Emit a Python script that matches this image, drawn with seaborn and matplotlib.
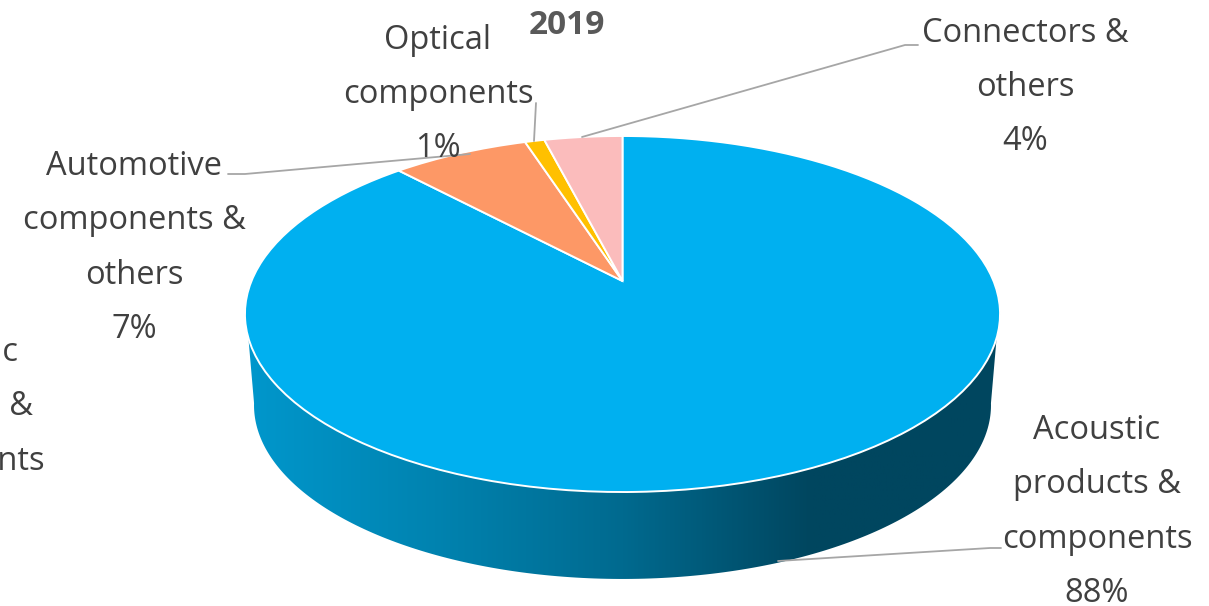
import numpy as np
import matplotlib
matplotlib.use('Agg')
import matplotlib.pyplot as plt
import seaborn as sns

categories = ['Acoustic\nproducts &\ncomponents', 'Automotive\ncomponents &\nothers', 'Optical\ncomponents', 'Connectors &\nothers']
shares = [88, 7, 1, 4]
slice_colors = ['#00b0f0', '#fd9866', '#ffc000', '#fbbcbc']
side_colors = ['#0097cc', '#0083b0', '#006a8f', '#00465f', '#00465f']
cut_off_label = 'Magnetic\nproducts &\ncomponents\n0%'
title = '2019'

sns.set_theme(style='white')
plt.rcParams['font.family'] = ['Open Sans', 'DejaVu Sans']

# pie is laid out in pixels of the reference, y going down
CX, CY = 622.5, 281
TILT = 0.1854
RX, RY = 371, 171.9
R = 400


def project(xy, scale=1.0, cy=CY):
    # perspective look at a flat disc, near edge is bigger
    w = 1 + TILT * xy[:, 1]
    return np.column_stack([CX + scale * RX * xy[:, 0] / w, cy - scale * RY * xy[:, 1] / w])


def rim(a, b, scale=1.0, cy=CY):
    t = np.radians(np.linspace(a, b, 200))
    return project(np.column_stack([np.cos(t), np.sin(t)]), scale, cy)


fig = plt.figure(figsize=(12.09, 6.06), dpi=100)
ax = fig.add_axes([0, 0, 1, 1])

wedges, _ = ax.pie(shares, colors=sns.color_palette(slice_colors), startangle=90, counterclock=False, radius=R)

# side of the disc, shaded left to right
side = np.vstack([rim(198.2, 341.8), rim(350, 190, 0.976, 373)])
shade = ax.imshow(np.linspace(0, 1, 256)[None, :], extent=[246, 1000, 606, 300], aspect='auto', zorder=1,
                  cmap=sns.blend_palette(side_colors, as_cmap=True))
clip = ax.fill(side[:, 0], side[:, 1], color='none', zorder=1)[0]
shade.set_clip_path(clip)

# redraw pie wedges through the projection
for w in wedges:
    poly = w.get_path().to_polygons(closed_only=False)[0] / R
    pts = project(poly)
    ax.fill(pts[:, 0], pts[:, 1], facecolor=w.get_facecolor(), edgecolor='white', lw=1.4, zorder=2)
    w.remove()

# leader lines
line_kw = dict(color='#a6a6a6', lw=1.3, zorder=3, solid_joinstyle='round')
ax.plot([778, 990, 1001], [561, 548, 548], **line_kw)
ax.plot([228, 245, 470], [174, 174, 154], **line_kw)
ax.plot([536, 534], [103, 141], **line_kw)
ax.plot([582, 905, 918], [137, 45, 45], **line_kw)

label_kw = dict(ha='center', va='center', fontsize=23.5, color='#404040', linespacing=1.85, zorder=4)
label_pos = [(1097, 512), (134, 248), (438, 94.5), (1025, 87.5)]
for name, v, (x, y) in zip(categories, shares, label_pos):
    ax.text(x, y, f'{name}\n{v}%', **label_kw)
ax.text(-51, 434, cut_off_label, **label_kw)
ax.text(567, 25, title, ha='center', va='center', fontsize=24, fontweight='bold', color='#595959', zorder=4)

ax.set_aspect('auto')
ax.set_xlim(0, 1209)
ax.set_ylim(606, 0)
ax.axis('off')

fig.savefig('out.png', dpi=100)
